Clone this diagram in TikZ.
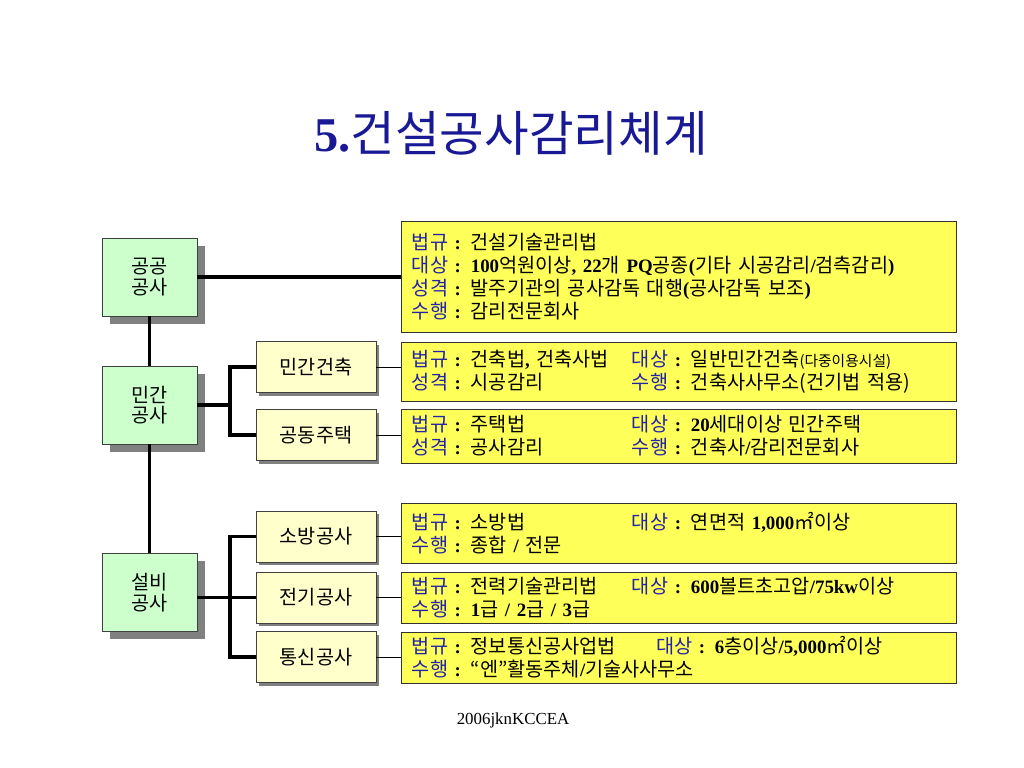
\documentclass[tikz,border=0pt]{standalone}
\usepackage{fontspec}
\setmainfont{Noto Sans CJK KR}
\newfontfamily\tnr{Liberation Serif}
\newfontfamily\tnrs[Scale=0.96]{Liberation Serif}
\usetikzlibrary{shadows}
\definecolor{lblue}{RGB}{35,35,165}
\definecolor{tblue}{RGB}{25,25,150}
\definecolor{ggreen}{RGB}{204,255,204}
\definecolor{bbeige}{RGB}{255,255,204}
\definecolor{yyellow}{RGB}{255,255,90}
\definecolor{sgray}{RGB}{128,128,128}
\newcommand{\nb}[1]{{\tnrs\bfseries #1}}
\newcommand{\lb}[1]{{\color{lblue}#1}\nb{\ : }}
\newcommand{\lc}[2][5.5cm]{\makebox[#1][l]{#2}}

\begin{document}
\begin{tikzpicture}[x=0.025cm, y=-0.025cm,
    kind/.style={draw=black!75, fill=ggreen, minimum width=2.375cm, minimum height=1.95cm,
        align=center, font=\fontsize{14}{14.5}\selectfont,
        general shadow={fill=sgray, shadow xshift=5.5pt, shadow yshift=-5.5pt}},
    work/.style={draw=black!75, fill=bbeige, minimum width=3cm, minimum height=1.275cm,
        font=\fontsize{14}{16}\selectfont,
        general shadow={fill=sgray, shadow xshift=2.2pt, shadow yshift=-2.2pt}},
    info/.style={draw=black!80, fill=yyellow, minimum width=13.875cm, text width=13.325cm,
        inner xsep=0.275cm, align=left, font=\fontsize{14}{16.3}\selectfont,
        general shadow={fill=sgray, shadow xshift=1pt, shadow yshift=-1pt}},
    trunk/.style={line width=2.2pt},
    twig/.style={line width=0.7pt}]
    \useasboundingbox (0,0) rectangle (1024,768);

    % Title and footer
    \node[text=tblue, font=\fontsize{34.5}{38}\selectfont] (title) at (511,133) {{\tnr\bfseries 5.}건설공사감리체계};
    \node[font=\tnr\fontsize{12}{14}\selectfont] (foot) at (513,720) {2006jknKCCEA};

    % Kinds of works (green)
    \node[kind] (gong) at (149.5,277) {공공\\공사};
    \node[kind] (mingan) at (149.5,405) {민간\\공사};
    \node[kind] (seolbi) at (149.5,592.5) {설비\\공사};

    % Sub works (beige)
    \node[work] (geonchuk) at (316,367) {민간건축};
    \node[work] (jutaek) at (316,435) {공동주택};
    \node[work] (sobang) at (316,536.5) {소방공사};
    \node[work] (jeongi) at (316,597.5) {전기공사};
    \node[work] (tongsin) at (316,657) {통신공사};

    % Details (yellow)
    \node[info, minimum height=2.775cm] (i1) at (678.5,276.5) {%
        \lb{법규}건설기술관리법\\
        \lb{대상}\nb{100}억원이상\nb{, 22}개 \nb{PQ}공종\nb{(}기타 시공감리\nb{/}검측감리\nb{)}\\
        \lb{성격}발주기관의 공사감독 대행\nb{(}공사감독 보조\nb{)}\\
        \lb{수행}감리전문회사};
    \node[info, minimum height=1.475cm] (i2) at (678.5,371.5) {%
        \lc{\lb{법규}건축법\nb{,} 건축사법}\lb{대상}일반민간건축{\fontsize{10.5}{12}\selectfont(다중이용시설)}\\
        \lc{\lb{성격}시공감리}\lb{수행}건축사사무소(건기법 적용)};
    \node[info, minimum height=1.35cm] (i3) at (678.5,436) {%
        \lc{\lb{법규}주택법}\lb{대상}\nb{20}세대이상 민간주택\\
        \lc{\lb{성격}공사감리}\lb{수행}건축사\nb{/}감리전문회사};
    \node[info, minimum height=1.5cm] (i4) at (678.5,533) {%
        \lc{\lb{법규}소방법}\lb{대상}연면적 \nb{1,000}㎡이상\\
        \lb{수행}종합 \nb{/} 전문};
    \node[info, minimum height=1.275cm] (i5) at (678.5,597.5) {%
        \lc{\lb{법규}전력기술관리법}\lb{대상}\nb{600}볼트초고압\nb{/75kw}이상\\
        \lb{수행}\nb{1}급 \nb{/ 2}급 \nb{/ 3}급};
    \node[info, minimum height=1.275cm] (i6) at (678.5,657.5) {%
        \lc[6.1cm]{\lb{법규}정보통신공사업법}\lb{대상}\nb{6}층이상\nb{/5,000}㎡이상\\
        \lb{수행}“엔”활동주체\nb{/}기술사사무소};

    % Trunk lines
    \draw[trunk] (gong) -- (mingan);
    \draw[trunk] (mingan) -- (seolbi);
    \draw[trunk] (gong.east) -- (gong.east -| i1.west);

    \coordinate (mj) at (230,405);
    \draw[trunk] (mingan.east) -- (mj);
    \draw[trunk] (geonchuk.west) -| (mj) |- (jutaek.west);

    \coordinate (sj) at (230,597.5);
    \draw[trunk] (seolbi.east |- jeongi) -- (jeongi.west);
    \draw[trunk] (sobang.west) -| (sj) |- (tongsin.west);

    % Thin lines to the details
    \draw[twig] (geonchuk.east) -- (geonchuk.east -| i2.west);
    \draw[twig] (jutaek.east) -- (jutaek.east -| i3.west);
    \draw[twig] (sobang.east) -- (sobang.east -| i4.west);
    \draw[twig] (jeongi.east) -- (jeongi.east -| i5.west);
    \draw[twig] (tongsin.east) -- (tongsin.east -| i6.west);
\end{tikzpicture}
\end{document}
